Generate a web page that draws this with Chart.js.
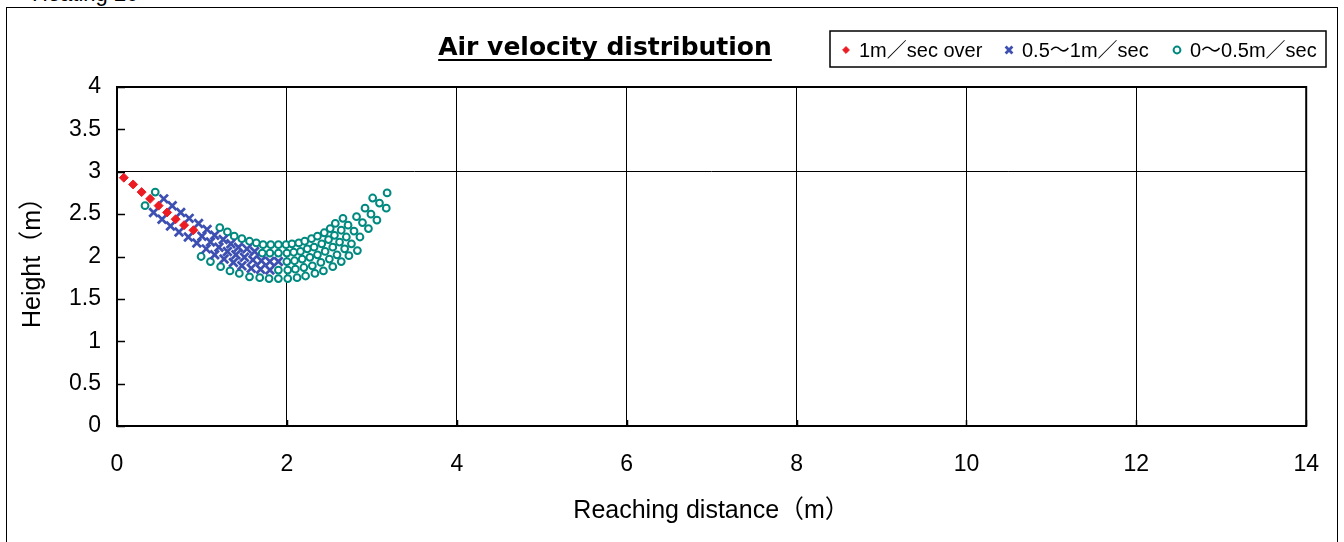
<!DOCTYPE html>
<html lang="en">
<head>
  <meta charset="UTF-8" />
  <title>Air velocity distribution</title>
  <script src="https://cdn.jsdelivr.net/npm/chart.js"></script>
  <style>
    body {
      margin: 0;
      background: #fff;
      font-family: "Liberation Sans", Arial, "Noto Sans CJK JP", sans-serif;
    }

    .wrap {
      position: relative;
      width: 1344px;
      height: 542px;
      overflow: hidden;
    }

    .frame {
      position: absolute;
      left: 6px;
      top: 7px;
      width: 1330px;
      height: 560px;
      border: 1.5px solid #000;
    }

    .caption {
      position: absolute;
      left: 32px;
      top: -17px;
      font-size: 22px;
      line-height: 22px;
      white-space: nowrap;
    }

    canvas {
      position: absolute;
      left: 0;
      top: 0;
    }
  </style>
</head>
<body>
  <div class="wrap">
    <div class="caption">Heating 20</div>
    <div class="frame"></div>
    <canvas id="velChart" width="1344" height="542"></canvas>
  </div>

  <script>
    // measured points [distance (m), height (m)]
    const fastPoints = [
      [0.08, 2.93], [0.19, 2.85], [0.29, 2.76], [0.39, 2.68], [0.49, 2.60],
      [0.59, 2.52], [0.69, 2.44], [0.79, 2.37], [0.90, 2.31]
    ];

    const midPoints = [
      // upper side
      [0.55, 2.68], [0.65, 2.60], [0.75, 2.52], [0.85, 2.45], [0.96, 2.39], [1.06, 2.32],
      [1.15, 2.25], [1.25, 2.20], [1.34, 2.15], [1.43, 2.11], [1.53, 2.09], [1.62, 2.06],
      // centre
      [1.00, 2.24], [1.10, 2.17], [1.20, 2.11], [1.30, 2.06], [1.40, 2.02],
      [1.50, 1.99], [1.60, 1.96], [1.70, 1.95], [1.80, 1.94], [1.90, 1.94],
      // lower side
      [0.43, 2.52], [0.53, 2.44], [0.63, 2.36], [0.73, 2.29], [0.84, 2.23], [0.94, 2.16],
      [1.05, 2.09], [1.15, 2.02], [1.26, 1.97], [1.37, 1.93], [1.47, 1.89], [1.58, 1.86],
      [1.69, 1.85], [1.80, 1.84]
    ];

    const slowPoints = [
      [0.45, 2.76], [0.33, 2.60],
      // outer upper
      [1.21, 2.34], [1.30, 2.29], [1.38, 2.24], [1.47, 2.21], [1.56, 2.18], [1.64, 2.16],
      [1.72, 2.14], [1.81, 2.14], [1.90, 2.14], [1.99, 2.14], [2.06, 2.15], [2.14, 2.16],
      [2.21, 2.18], [2.29, 2.21], [2.36, 2.24], [2.44, 2.28], [2.51, 2.33], [2.57, 2.39],
      [2.66, 2.45],
      // outer lower
      [0.99, 2.00], [1.10, 1.94], [1.22, 1.88], [1.33, 1.83], [1.44, 1.80], [1.56, 1.76],
      [1.68, 1.75], [1.79, 1.74], [1.90, 1.74], [2.01, 1.74], [2.12, 1.75], [2.22, 1.77],
      [2.33, 1.80], [2.43, 1.83], [2.54, 1.88], [2.64, 1.94], [2.73, 2.01], [2.83, 2.07],
      // upper side
      [1.71, 2.04], [1.80, 2.04], [1.90, 2.04], [2.00, 2.04], [2.08, 2.05], [2.16, 2.06],
      [2.24, 2.09], [2.32, 2.11], [2.41, 2.15], [2.49, 2.20], [2.56, 2.25], [2.64, 2.31],
      [2.72, 2.37], [2.82, 2.47], [2.92, 2.57], [3.01, 2.69],
      // centre
      [2.00, 1.94], [2.09, 1.95], [2.18, 1.97], [2.27, 1.99], [2.36, 2.02], [2.45, 2.06],
      [2.54, 2.11], [2.62, 2.17], [2.70, 2.23], [2.79, 2.30], [2.89, 2.40], [2.99, 2.50],
      [3.09, 2.63], [3.18, 2.75],
      // lower side
      [1.90, 1.84], [2.01, 1.84], [2.10, 1.85], [2.20, 1.87], [2.30, 1.89], [2.40, 1.93],
      [2.50, 1.97], [2.59, 2.02], [2.68, 2.09], [2.76, 2.15], [2.86, 2.23], [2.96, 2.33],
      [3.06, 2.43], [3.17, 2.57]
    ];

    const seriesLabels = ['1m／sec over', '0.5～1m／sec', '0～0.5m／sec'];
    const titleText = 'Air velocity distribution';
    const xTitle = 'Reaching distance（m）';
    const yTitle = 'Height（m）';

    const FONT = '"Liberation Sans", Arial, "Noto Sans CJK JP", sans-serif';
    const toXY = pts => pts.map(([x, y]) => ({ x, y }));

    const datasets = [
      {
        label: seriesLabels[0],
        data: toXY(fastPoints),
        pointStyle: 'rectRot',
        pointRadius: 4.5,
        borderWidth: 1,
        borderColor: '#ec1c24',
        backgroundColor: '#ec1c24'
      },
      {
        label: seriesLabels[1],
        data: toXY(midPoints),
        pointStyle: 'crossRot',
        pointRadius: 6,
        borderWidth: 2.8,
        borderColor: '#3d50b2',
        backgroundColor: '#3d50b2'
      },
      {
        label: seriesLabels[2],
        data: toXY(slowPoints),
        pointStyle: 'circle',
        pointRadius: 3.4,
        borderWidth: 2,
        borderColor: '#00897f',
        backgroundColor: '#ffffff'
      }
    ];

    // frame, inward ticks, title and boxed legend
    const decorPlugin = {
      id: 'decor',
      afterDraw(chart) {
        const { ctx, chartArea: a, scales } = chart;
        const xs = scales.x, ys = scales.y;
        ctx.save();

        ctx.strokeStyle = '#000';
        ctx.lineWidth = 1.5;
        ctx.beginPath();
        ys.ticks.forEach(t => {
          const py = Math.round(ys.getPixelForValue(t.value)) + 0.5;
          ctx.moveTo(a.left, py);
          ctx.lineTo(a.left + 8, py);
        });
        xs.ticks.forEach(t => {
          const px = Math.round(xs.getPixelForValue(t.value)) + 0.5;
          ctx.moveTo(px, a.bottom);
          ctx.lineTo(px, a.bottom - 6);
        });
        ctx.stroke();

        ctx.lineWidth = 2;
        ctx.strokeRect(a.left, a.top, a.right - a.left, a.bottom - a.top);

        // title
        ctx.fillStyle = '#000';
        ctx.font = 'bold 25px "DejaVu Sans", ' + FONT;
        ctx.textAlign = 'center';
        ctx.textBaseline = 'alphabetic';
        const tx = 605, ty = 55;
        ctx.fillText(titleText, tx, ty);
        const tw = ctx.measureText(titleText).width;
        ctx.fillRect(tx - tw / 2, ty + 4, tw, 2);

        // legend box
        const lx = 830, ly = 31, lw = 496, lh = 36;
        ctx.fillStyle = '#fff';
        ctx.fillRect(lx, ly, lw, lh);
        ctx.lineWidth = 1.5;
        ctx.strokeStyle = '#000';
        ctx.strokeRect(lx, ly, lw, lh);

        const markerX = [846, 1009, 1177];
        ctx.font = '20px ' + FONT;
        ctx.textAlign = 'left';
        ctx.textBaseline = 'middle';
        chart.data.datasets.forEach((ds, i) => {
          const my = ly + lh / 2 + 1;
          ctx.fillStyle = ds.backgroundColor;
          ctx.strokeStyle = ds.borderColor;
          ctx.lineWidth = ds.borderWidth;
          Chart.helpers.drawPoint(ctx, {
            pointStyle: ds.pointStyle,
            radius: i === 1 ? 4.8 : 3.4,
            rotation: 0,
            borderWidth: ds.borderWidth
          }, markerX[i], my);
          ctx.fillStyle = '#000';
          ctx.fillText(ds.label, markerX[i] + 13, my + 1);
        });

        ctx.restore();
      }
    };

    const ctx = document.getElementById('velChart').getContext('2d');

    new Chart(ctx, {
      type: 'scatter',
      data: { datasets },
      plugins: [decorPlugin],
      options: {
        responsive: false,
        animation: false,
        events: [],
        layout: { padding: { top: 87, right: 37, left: 0, bottom: 0 } },
        plugins: {
          legend: { display: false },
          title: { display: false },
          tooltip: { enabled: false }
        },
        scales: {
          x: {
            type: 'linear',
            min: 0,
            max: 14,
            ticks: {
              stepSize: 2,
              padding: 25,
              color: '#000',
              font: { family: FONT, size: 23 }
            },
            grid: { color: '#000', lineWidth: 1, drawTicks: false },
            border: { display: false },
            title: {
              display: true,
              text: xTitle,
              color: '#000',
              font: { family: FONT, size: 25 },
              padding: { top: 0, bottom: 16 }
            },
            afterFit: s => { s.height = 116; }
          },
          y: {
            type: 'linear',
            min: 0,
            max: 4,
            ticks: {
              stepSize: 0.5,
              padding: 16,
              color: '#000',
              font: { family: FONT, size: 23 },
              callback: v => String(v)
            },
            grid: {
              drawTicks: false,
              lineWidth: 1,
              color: c => (c.tick && c.tick.value === 3 ? '#000' : 'rgba(0,0,0,0)')
            },
            border: { display: false },
            title: {
              display: true,
              text: yTitle,
              color: '#000',
              font: { family: FONT, size: 25 },
              padding: { top: 18, bottom: 0 }
            },
            afterFit: s => { s.width = 117; }
          }
        }
      }
    });
  </script>
</body>
</html>
